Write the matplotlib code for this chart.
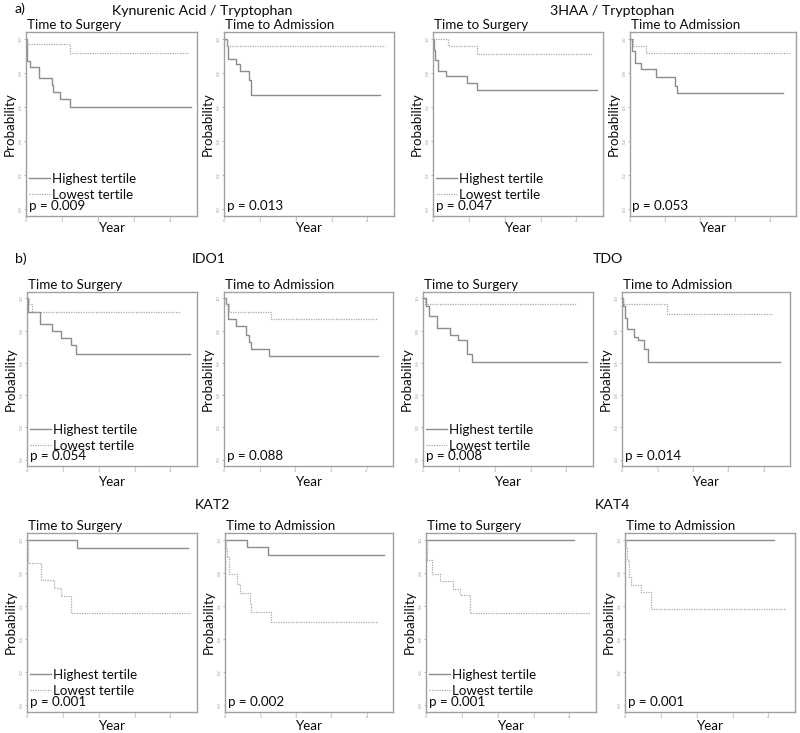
import matplotlib
matplotlib.use("Agg")
import matplotlib.pyplot as plt
from matplotlib.lines import Line2D

plt.rcParams['font.family'] = ['Lato', 'DejaVu Sans']

# ---------------- data ----------------
group_titles = ["Kynurenic Acid / Tryptophan", "3HAA / Tryptophan",
                "IDO1", "TDO", "KAT2", "KAT4"]
panel_titles = ["Time to Surgery", "Time to Admission"]
legend_labels = ["Highest tertile", "Lowest tertile"]
p_values = ["0.009", "0.013", "0.047", "0.053",
            "0.054", "0.088", "0.008", "0.014",
            "0.001", "0.002", "0.001", "0.001"]
y_ticks = [0.0, 0.2, 0.4, 0.6, 0.8, 1.0]
x_ticks = [0, 1, 2, 3, 4]

# Kynurenic Acid / Tryptophan
ka_surg_hi_t = [0, 0.02, 0.11, 0.36, 0.72, 0.74, 0.95, 1.21, 4.58]
ka_surg_hi_s = [1, 0.87, 0.835, 0.77, 0.73, 0.69, 0.646, 0.60, 0.60]
ka_surg_lo_t = [0, 0.02, 1.21, 4.48]
ka_surg_lo_s = [1, 0.967, 0.917, 0.917]
ka_adm_hi_t = [0, 0.07, 0.11, 0.33, 0.44, 0.69, 0.74, 4.35]
ka_adm_hi_s = [1, 0.96, 0.884, 0.85, 0.81, 0.76, 0.67, 0.67]
ka_adm_lo_t = [0, 0.07, 4.49]
ka_adm_lo_s = [1, 0.96, 0.96]

# 3HAA / Tryptophan
ha_surg_hi_t = [0, 0.02, 0.05, 0.13, 0.35, 0.95, 1.23, 4.57]
ha_surg_hi_s = [1, 0.937, 0.878, 0.813, 0.782, 0.74, 0.70, 0.70]
ha_surg_lo_t = [0, 0.42, 1.23, 4.47]
ha_surg_lo_s = [1, 0.957, 0.912, 0.912]
ha_adm_hi_t = [0, 0.05, 0.14, 0.30, 0.73, 1.29, 1.33, 4.37]
ha_adm_hi_s = [1, 0.927, 0.859, 0.82, 0.776, 0.725, 0.68, 0.68]
ha_adm_lo_t = [0, 0.09, 0.47, 4.56]
ha_adm_lo_s = [1, 0.957, 0.917, 0.917]

# IDO1
ido_surg_hi_t = [0, 0.02, 0.37, 0.69, 0.95, 1.22, 1.37, 4.54]
ido_surg_hi_s = [1, 0.918, 0.84, 0.80, 0.755, 0.712, 0.657, 0.657]
ido_surg_lo_t = [0, 0.05, 0.14, 4.26]
ido_surg_lo_s = [1, 0.963, 0.918, 0.918]
ido_adm_hi_t = [0, 0.05, 0.10, 0.35, 0.62, 0.71, 0.75, 1.27, 4.32]
ido_adm_hi_s = [1, 0.963, 0.873, 0.829, 0.776, 0.729, 0.688, 0.641, 0.641]
ido_adm_lo_t = [0, 0.07, 0.14, 1.31, 4.30]
ido_adm_lo_s = [1, 0.967, 0.918, 0.871, 0.871]

# TDO
tdo_surg_hi_t = [0, 0.07, 0.17, 0.40, 0.75, 0.97, 1.23, 1.37, 4.56]
tdo_surg_hi_s = [1, 0.953, 0.89, 0.816, 0.773, 0.739, 0.657, 0.606, 0.606]
tdo_surg_lo_t = [0, 0.06, 4.27]
tdo_surg_lo_s = [1, 0.963, 0.963]
tdo_adm_hi_t = [0, 0.04, 0.09, 0.14, 0.35, 0.44, 0.61, 0.73, 4.47]
tdo_adm_hi_s = [1, 0.953, 0.878, 0.81, 0.763, 0.739, 0.688, 0.606, 0.606]
tdo_adm_lo_t = [0, 0.04, 1.28, 4.24]
tdo_adm_lo_s = [1, 0.963, 0.906, 0.906]

# KAT2
kat2_surg_hi_t = [0, 1.39, 4.49]
kat2_surg_hi_s = [1, 0.95, 0.95]
kat2_surg_lo_t = [0, 0.03, 0.39, 0.74, 0.95, 1.22, 4.56]
kat2_surg_lo_s = [1, 0.861, 0.759, 0.71, 0.658, 0.557, 0.557]
kat2_adm_hi_t = [0, 0.61, 1.21, 4.49]
kat2_adm_hi_s = [1, 0.956, 0.909, 0.909]
kat2_adm_lo_t = [0, 0.02, 0.06, 0.11, 0.33, 0.42, 0.71, 0.73, 1.30, 4.30]
kat2_adm_lo_s = [1, 0.946, 0.895, 0.79, 0.734, 0.68, 0.614, 0.563, 0.503, 0.503]

# KAT4
kat4_surg_hi_t = [0, 4.14]
kat4_surg_hi_s = [1, 1]
kat4_surg_lo_t = [0, 0.02, 0.16, 0.39, 0.74, 0.95, 1.23, 4.56]
kat4_surg_lo_s = [1, 0.875, 0.795, 0.75, 0.704, 0.664, 0.559, 0.559]
kat4_adm_hi_t = [0, 4.15]
kat4_adm_hi_s = [1, 1]
kat4_adm_lo_t = [0, 0.02, 0.06, 0.11, 0.16, 0.45, 0.72, 4.49]
kat4_adm_lo_s = [1, 0.956, 0.875, 0.775, 0.728, 0.682, 0.584, 0.584]

curves = [
    (ka_surg_hi_t, ka_surg_hi_s, ka_surg_lo_t, ka_surg_lo_s),
    (ka_adm_hi_t, ka_adm_hi_s, ka_adm_lo_t, ka_adm_lo_s),
    (ha_surg_hi_t, ha_surg_hi_s, ha_surg_lo_t, ha_surg_lo_s),
    (ha_adm_hi_t, ha_adm_hi_s, ha_adm_lo_t, ha_adm_lo_s),
    (ido_surg_hi_t, ido_surg_hi_s, ido_surg_lo_t, ido_surg_lo_s),
    (ido_adm_hi_t, ido_adm_hi_s, ido_adm_lo_t, ido_adm_lo_s),
    (tdo_surg_hi_t, tdo_surg_hi_s, tdo_surg_lo_t, tdo_surg_lo_s),
    (tdo_adm_hi_t, tdo_adm_hi_s, tdo_adm_lo_t, tdo_adm_lo_s),
    (kat2_surg_hi_t, kat2_surg_hi_s, kat2_surg_lo_t, kat2_surg_lo_s),
    (kat2_adm_hi_t, kat2_adm_hi_s, kat2_adm_lo_t, kat2_adm_lo_s),
    (kat4_surg_hi_t, kat4_surg_hi_s, kat4_surg_lo_t, kat4_surg_lo_s),
    (kat4_adm_hi_t, kat4_adm_hi_s, kat4_adm_lo_t, kat4_adm_lo_s),
]

# ---------------- layout (pixels) ----------------
W, H = 800, 733
fig = plt.figure(figsize=(W / 100, H / 100), dpi=100)

row_tb = [(32, 216), (292, 466), (533, 712)]
year_top = [222, 476, 720]
col_lr = [
    [(26, 197), (224, 394), (433, 603), (630, 796)],
    [(27, 197), (224, 393), (423, 593), (622, 790)],
    [(27, 197), (225, 393), (426, 596), (625, 795)],
]
header_pos = [(202, 11), (612, 11), (209, 259), (608, 259), (212, 505), (612, 505)]

SOLID = "#8c8c8c"
DOT = "#a8a8a8"
FRAME = "#a0a0a0"
TXT = "#0a0a0a"
FS = 9.6
FS_H = 10.2

for r in range(3):
    top, bot = row_tb[r]
    for c in range(4):
        idx = r * 4 + c
        left, right = col_lr[r][c]
        ax = fig.add_axes([left / W, 1 - bot / H, (right - left) / W, (bot - top) / H])
        hi_t, hi_s, lo_t, lo_s = curves[idx]
        ax.step(hi_t, hi_s, where="post", color=SOLID, lw=1.0, ls="-")
        ax.step(lo_t, lo_s, where="post", color=DOT, lw=0.9, ls=(0, (1, 1)))
        ax.set_xlim(0, 4.74)
        ax.set_ylim(-0.04, 1.04)
        ax.set_xticks(x_ticks)
        ax.set_yticks(y_ticks)
        ax.set_xticklabels([str(v) for v in x_ticks])
        ax.set_yticklabels([f"{v:.1f}" for v in y_ticks], rotation=90, va="center")
        ax.tick_params(axis="both", labelsize=3, colors="#9a9a9a", length=1.5,
                       width=0.5, pad=1)
        for sp in ax.spines.values():
            sp.set_color(FRAME)
            sp.set_linewidth(1.0)
        ax.set_xlabel("Year", fontsize=FS, color=TXT, va="top")
        ax.xaxis.set_label_coords(0.5, -(year_top[r] - bot) / (bot - top))
        ax.set_ylabel("Probability", fontsize=FS, color=TXT, labelpad=2)
        ax.text(0.005, 1.005, panel_titles[c % 2], transform=ax.transAxes,
                ha="left", va="bottom", fontsize=FS, color=TXT)
        ax.text(0.015, 0.056, "p = " + p_values[idx], transform=ax.transAxes,
                ha="left", va="center", fontsize=FS, color=TXT)
        if c % 2 == 0:
            handles = [Line2D([], [], color=SOLID, lw=1.0, ls="-"),
                       Line2D([], [], color=DOT, lw=0.9, ls=(0, (1, 1)))]
            ax.legend(handles, legend_labels, loc="lower left",
                      bbox_to_anchor=(0.018, 0.083), frameon=False,
                      fontsize=FS, handlelength=1.55, handletextpad=0.15,
                      labelspacing=0.3, borderpad=0, borderaxespad=0,
                      labelcolor=TXT)

for (x, y), t in zip(header_pos, group_titles):
    fig.text(x / W, 1 - y / H, t, ha="center", va="center", fontsize=FS_H, color=TXT)

fig.text(15 / W, 1 - 9 / H, "a)", ha="left", va="center", fontsize=FS_H, color=TXT)
fig.text(15 / W, 1 - 259 / H, "b)", ha="left", va="center", fontsize=FS_H, color=TXT)

fig.savefig("out.png", dpi=100)
